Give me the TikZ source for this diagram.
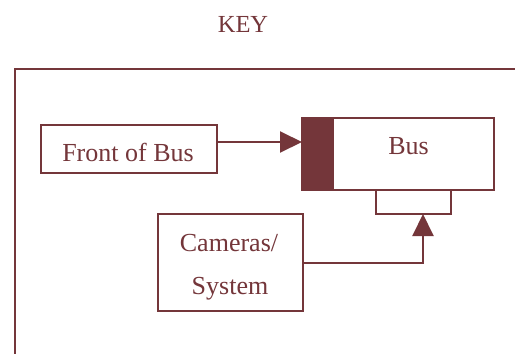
\documentclass[tikz,border=0pt]{standalone}
\usepackage{fontspec}
\setmainfont{Liberation Serif}
\usetikzlibrary{arrows.meta}
\definecolor{maroon}{HTML}{74363A}
\begin{document}
\begin{tikzpicture}[x=1pt,y=-1pt,
  box/.style={draw=maroon,line width=2pt,fill=white,minimum width=#1,inner sep=0pt,outer sep=0pt},
  lbl/.style={text=maroon,font=\fontsize{26}{30}\selectfont,anchor=base,inner sep=0pt},
  conn/.style={draw=maroon,line width=2pt,-{Triangle[length=22pt,width=21pt]}}]
\useasboundingbox (0,0) rectangle (515,354);
\fill[white] (0,0) rectangle (515,354);
\node[lbl,font=\fontsize{24.5}{28}\selectfont] (key) at (243,32) {KEY};
\draw[maroon,line width=2pt] (15,354) -- (15,69) -- (515,69);
\node[box=176pt,minimum height=48pt] (front) at (129,149) {};
\node[lbl] (frontlbl) at (128,161) {Front of Bus};
\node[box=75pt,minimum height=24pt] (busbase) at (413.5,202) {};
\node[box=192pt,minimum height=72pt] (bus) at (398,154) {};
\node[box=31pt,minimum height=72pt,fill=maroon] (busfront) at (317.5,154) {};
\node[lbl] (buslbl) at (408.5,154) {Bus};
\node[box=145pt,minimum height=97pt] (cam) at (230.5,262.5) {};
\node[lbl] (camlbl1) at (229,251) {Cameras/};
\node[lbl] (camlbl2) at (230,294) {System};
\coordinate (arrowy) at (0,142);
\coordinate (tip) at (423,214);
\draw[conn] (front.east |- arrowy) -- (busfront.west |- arrowy);
\draw[conn] (cam.east) -| (tip);
\end{tikzpicture}
\end{document}
